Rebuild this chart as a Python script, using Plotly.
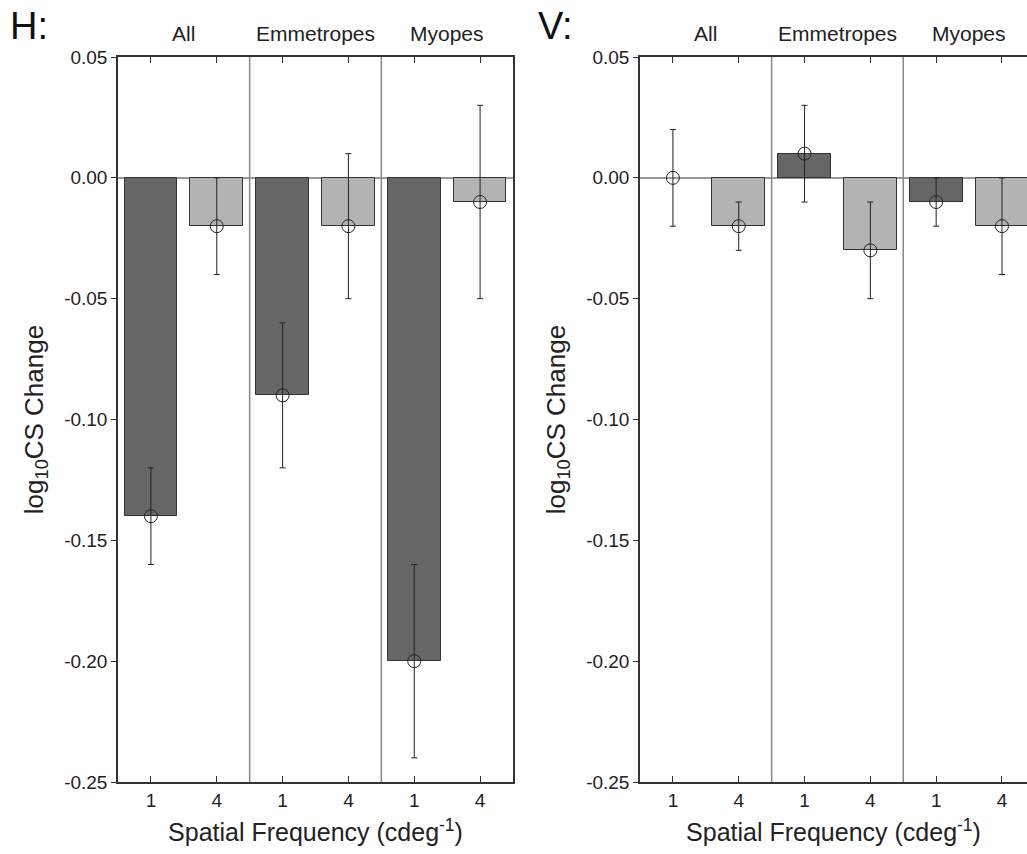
import plotly.graph_objects as go

groups = ["All", "Emmetropes", "Myopes"]
freqs = ["1", "4"]

h_mean = [-0.14, -0.02, -0.09, -0.02, -0.20, -0.01]
h_err_plus = [0.02, 0.02, 0.03, 0.03, 0.04, 0.04]
h_err_minus = [0.02, 0.02, 0.03, 0.03, 0.04, 0.04]

v_mean = [0.00, -0.02, 0.01, -0.03, -0.01, -0.02]
v_err_plus = [0.02, 0.01, 0.02, 0.02, 0.01, 0.02]
v_err_minus = [0.02, 0.01, 0.02, 0.02, 0.01, 0.02]

y_tickvals = [0.05, 0.00, -0.05, -0.10, -0.15, -0.20, -0.25]
y_ticktext = ["0.05", "0.00", "-0.05", "-0.10", "-0.15", "-0.20", "-0.25"]

DARK = "#666666"
LIGHT = "#b3b3b3"
FONT = "Liberation Sans, Arial, sans-serif"

xpos = [g * 2 + 0.5 + f for g in range(len(groups)) for f in range(len(freqs))]
xlabels = [freqs[f] for g in range(len(groups)) for f in range(len(freqs))]
colors = [DARK if f == 0 else LIGHT for g in range(len(groups)) for f in range(len(freqs))]

fig = go.Figure()

for i, (mean, ep, em) in enumerate([(h_mean, h_err_plus, h_err_minus),
                                     (v_mean, v_err_plus, v_err_minus)]):
    xa = "x" if i == 0 else "x2"
    ya = "y" if i == 0 else "y2"
    lw = [0 if v == 0 else 1 for v in mean]
    fig.add_trace(go.Bar(x=xpos, y=mean, width=0.8, marker=dict(color=colors,
                         line=dict(color="#333333", width=lw)),
                         xaxis=xa, yaxis=ya, showlegend=False))
    fig.add_trace(go.Scatter(x=xpos, y=mean, mode="markers",
                             marker=dict(symbol="circle-open", size=13,
                                         color="#222222", line=dict(width=1)),
                             error_y=dict(type="data", array=ep, arrayminus=em,
                                          symmetric=False, color="#222222",
                                          thickness=1, width=3),
                             xaxis=xa, yaxis=ya, showlegend=False))

L0, L1 = 118 / 1027, 513 / 1027
R0 = 640 / 1027

common_x = dict(tickvals=xpos, ticktext=xlabels, ticks="inside", ticklen=6,
                tickcolor="#333333", showline=True, linecolor="#333333",
                linewidth=1.5, showgrid=False, zeroline=False,
                tickfont=dict(family=FONT, size=19, color="#222222"),
                title=dict(text="Spatial Frequency (cdeg<sup>-1</sup>)",
                           font=dict(family=FONT, size=25, color="#222222"),
                           standoff=14))
common_y = dict(range=[-0.25, 0.05], tickvals=y_tickvals, ticktext=y_ticktext,
                ticks="outside", ticklen=5, tickcolor="#333333",
                showline=True, linecolor="#333333", linewidth=1.5,
                showgrid=False, zeroline=True, zerolinecolor="#999999",
                zerolinewidth=1.5,
                tickfont=dict(family=FONT, size=19, color="#222222"),
                title=dict(text="log<sub>10</sub>CS Change",
                           font=dict(family=FONT, size=26, color="#222222"),
                           standoff=13))

fig.update_layout(
    width=1027, height=854,
    margin=dict(l=0, r=0, t=57, b=72),
    plot_bgcolor="white", paper_bgcolor="white",
    bargap=0,
    xaxis=dict(common_x, domain=[L0, L1], range=[0, 6], mirror="ticks"),
    yaxis=dict(common_y, mirror=True),
    xaxis2=dict(common_x, domain=[R0, 1.0], range=[0, 5.88], mirror="ticks", anchor="y2"),
    yaxis2=dict(common_y, anchor="x2"),
)

shapes = []
annotations = []
for xa in ["x", "x2"]:
    for g in range(1, len(groups)):
        shapes.append(dict(type="line", xref=xa, yref="paper", x0=g * 2, x1=g * 2,
                           y0=0, y1=1, line=dict(color="#888888", width=1.5)))
    for g, name in enumerate(groups):
        annotations.append(dict(text=name, xref=xa, yref="paper", x=g * 2 + 1,
                                y=1.0, yanchor="middle", yshift=24, showarrow=False,
                                font=dict(family=FONT, size=21, color="#222222")))

annotations.append(dict(text="H:", xref="paper", yref="paper", x=8 / 1027, y=1.0,
                        xanchor="left", yanchor="bottom", yshift=8, showarrow=False,
                        font=dict(family=FONT, size=38, color="#111111")))
annotations.append(dict(text="V:", xref="paper", yref="paper", x=536 / 1027, y=1.0,
                        xanchor="left", yanchor="bottom", yshift=8, showarrow=False,
                        font=dict(family=FONT, size=38, color="#111111")))

fig.update_layout(shapes=shapes, annotations=annotations)

fig.write_html("out.html")
